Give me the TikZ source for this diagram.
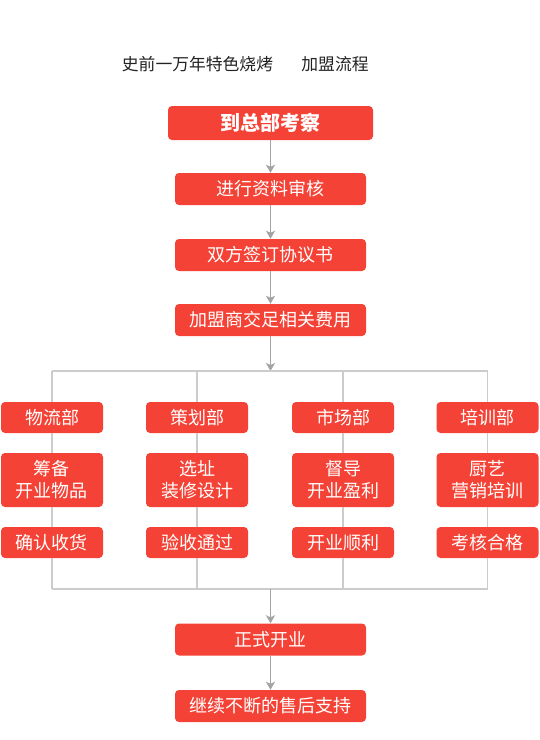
\documentclass[tikz,border=0pt]{standalone}
\usepackage{fontspec}
\setmainfont{Noto Sans CJK SC}
\usepackage{tikz}
\usetikzlibrary{arrows.meta}

\definecolor{boxred}{HTML}{F44336}
\definecolor{arrowgray}{HTML}{A3A3A3}
\definecolor{linegray}{HTML}{CCCCCC}
\definecolor{titlegray}{HTML}{222222}

\tikzset{
  stepbox/.style={fill=boxred, rounded corners=4pt, text=white, font=\fontsize{18}{22}\selectfont,
    minimum width=191pt, minimum height=32pt, inner sep=0pt, align=center},
  deptbox/.style={stepbox, minimum width=102pt, minimum height=31pt},
  flowarrow/.style={draw=arrowgray, line width=1.6pt, -{Stealth[length=8pt,width=9pt,inset=2pt]}},
  busline/.style={draw=linegray, line width=1.5pt}
}

\begin{document}
\begin{tikzpicture}[x=1pt,y=-1pt]
\useasboundingbox (0,0) rectangle (540,740);

\node[font=\fontsize{16.8}{20}\selectfont, text=titlegray] (title) at (197.5,64) {史前一万年特色烧烤};
\node[font=\fontsize{16.8}{20}\selectfont, text=titlegray] (sub) at (335,64) {加盟流程};

\node[stepbox, minimum width=205pt, minimum height=34pt, font=\fontsize{20}{24}\selectfont\bfseries] (visit) at (270.5,123) {到总部考察};
\node[stepbox] (audit) at (270.5,189) {进行资料审核};
\node[stepbox] (sign) at (270.5,255) {双方签订协议书};
\node[stepbox] (fee) at (270.5,320) {加盟商交足相关费用};

\draw[flowarrow] (visit) -- (audit);
\draw[flowarrow] (audit) -- (sign);
\draw[flowarrow] (sign) -- (fee);

\coordinate (busT) at (270.5,371);
\coordinate (busB) at (270.5,589);
\draw[flowarrow] (fee) -- (busT);

\foreach \i/\x/\dept/\work/\done in {1/52/物流部/{筹备\\开业物品}/确认收货,
                                     2/197/策划部/{选址\\装修设计}/验收通过,
                                     3/343/市场部/{督导\\开业盈利}/开业顺利,
                                     4/487.5/培训部/{厨艺\\营销培训}/考核合格}
{
	\node[deptbox] (d\i) at (\x,417.5) {\dept};
	\node[deptbox, minimum height=54pt] (p\i) at (\x,480) {\work};
	\node[deptbox] (r\i) at (\x,542.5) {\done};
	\draw[busline] (d\i.north |- busT) -- (d\i.north);
	\draw[busline] (d\i) -- (p\i);
	\draw[busline] (p\i) -- (r\i);
	\draw[busline] (r\i.south) -- (r\i.south |- busB);
}
\draw[busline] (d1.north |- busT) -- (d4.north |- busT);
\draw[busline] (r1.south |- busB) -- (r4.south |- busB);

\node[stepbox] (open) at (270.5,639.5) {正式开业};
\node[stepbox] (support) at (270.5,706) {继续不断的售后支持};

\draw[flowarrow] (busB) -- (open);
\draw[flowarrow] (open) -- (support);
\end{tikzpicture}
\end{document}
